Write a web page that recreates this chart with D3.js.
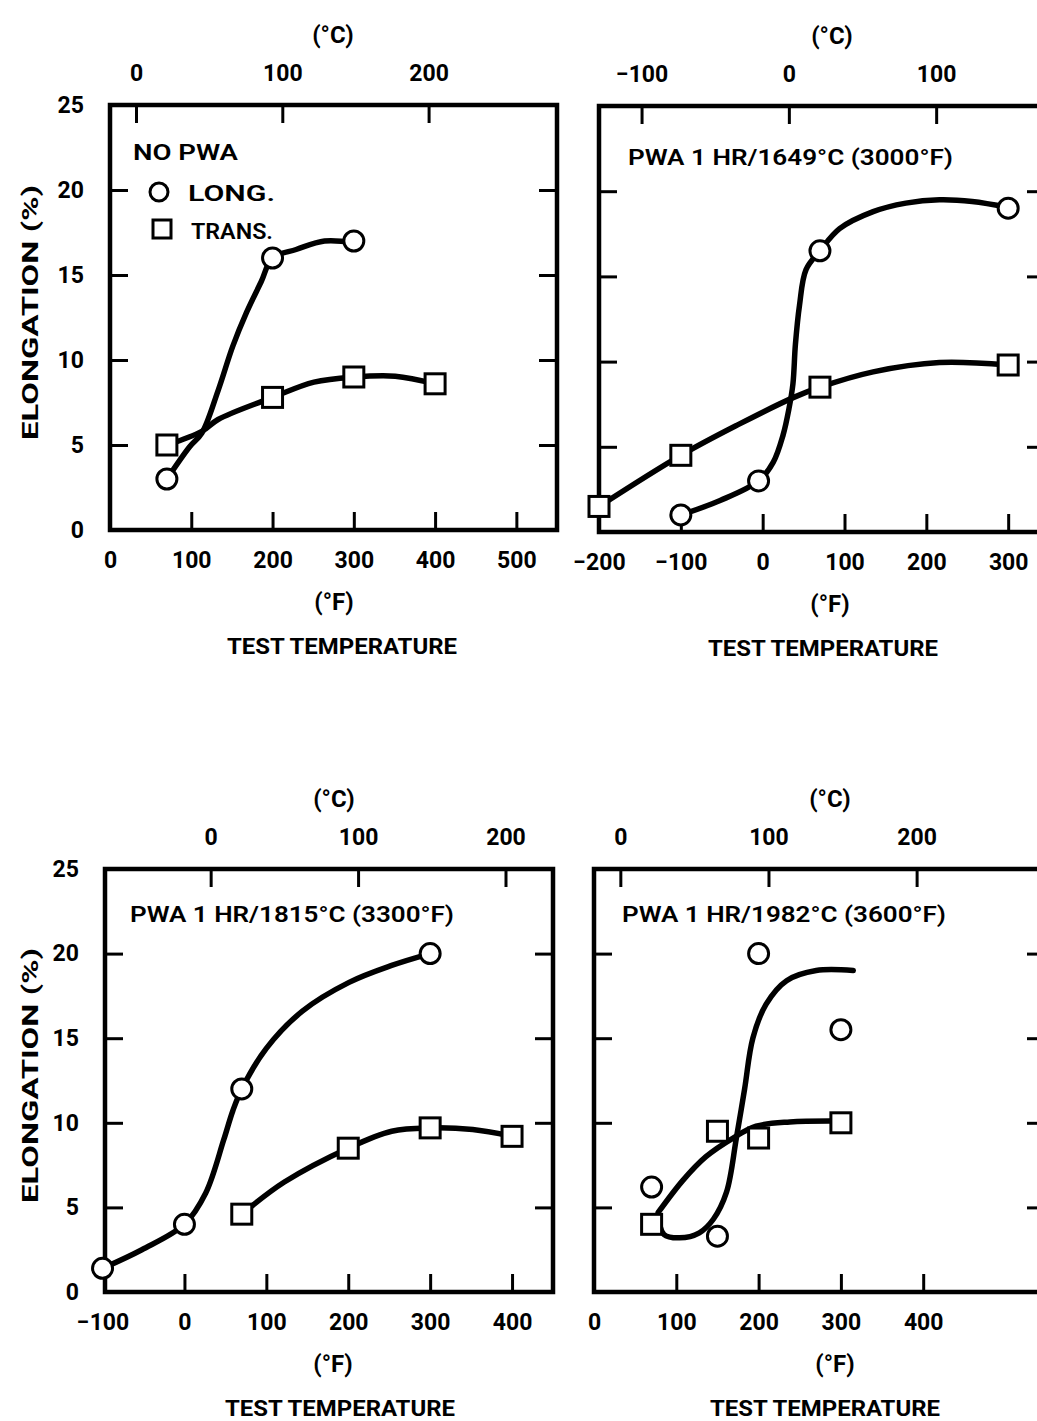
<!DOCTYPE html>
<html>
<head>
<meta charset="utf-8">
<script src="https://cdn.jsdelivr.net/npm/d3@7"></script>
<style>
  html, body { margin: 0; padding: 0; background: #fff; }
  svg { display: block; }
  text { font-family: Roboto, "Noto Sans", "DejaVu Sans", sans-serif; fill: #000; }
</style>
</head>
<body>
<svg id="chart" width="1037" height="1421"></svg>
<script>
// ---------- DATA ----------
const yTicks = [0, 5, 10, 15, 20, 25];

// Panel 1: NO PWA
const p1FTicks = [0, 100, 200, 300, 400, 500];
const p1CTicks = [0, 100, 200];
const p1LongF = [70, 200, 300];
const p1LongE = [3, 16, 17];
const p1TransF = [70, 200, 300, 400];
const p1TransE = [5, 7.8, 9, 8.6];
const p1LongCurveF = [70, 98, 113, 133, 151, 168, 186, 200, 229, 264, 300];
const p1LongCurveE = [3, 4.9, 5.7, 8.2, 10.8, 12.8, 14.6, 16, 16.5, 17.0, 16.9];
const p1TransCurveF = [70, 113, 133, 200, 251, 300, 351, 400];
const p1TransCurveE = [5.0, 5.8, 6.5, 7.8, 8.7, 9.0, 9.05, 8.6];

// Panel 2: PWA 1 HR/1649°C (3000°F)
const p2FTicks = [-200, -100, 0, 100, 200, 300];
const p2CTicks = [-100, 0, 100];
const p2LongF = [-100, -5, 70, 300];
const p2LongE = [1.0, 3.0, 16.5, 19.0];
const p2TransF = [-200, -100, 70, 300];
const p2TransE = [1.5, 4.5, 8.5, 9.8];
const p2LongCurveF = [-100, -52, -5, 13, 25, 32, 37, 40, 45, 53, 70, 94, 135, 175, 216, 256, 300];
const p2LongCurveE = [1.0, 1.85, 3.0, 4.1, 5.7, 7.2, 8.7, 11.0, 13.3, 15.4, 16.5, 17.8, 18.8, 19.3, 19.5, 19.4, 19.05];
const p2TransCurveF = [-200, -100, -30, 38, 70, 135, 216, 300];
const p2TransCurveE = [1.5, 4.5, 6.3, 7.9, 8.5, 9.4, 9.95, 9.8];

// Panel 3: PWA 1 HR/1815°C (3300°F)
const p3FTicks = [-100, 0, 100, 200, 300, 400];
const p3CTicks = [0, 100, 200];
const p3LongF = [-100, 0, 70, 300];
const p3LongE = [1.4, 4.0, 12, 20];
const p3TransF = [70, 200, 300, 400];
const p3TransE = [4.6, 8.5, 9.7, 9.2];
const p3LongCurveF = [-100, -52, 0, 26, 48, 59, 70, 100, 144, 201, 253, 300];
const p3LongCurveE = [1.4, 2.5, 4.0, 5.85, 9.0, 10.7, 12, 14.4, 16.6, 18.3, 19.3, 20];
const p3TransCurveF = [70, 122, 200, 253, 300, 352, 400];
const p3TransCurveE = [4.6, 6.5, 8.5, 9.5, 9.7, 9.6, 9.2];

// Panel 4: PWA 1 HR/1982°C (3600°F)
const p4FTicks = [0, 100, 200, 300, 400];
const p4CTicks = [0, 100, 200];
const p4LongF = [70, 150, 200, 300];
const p4LongE = [6.2, 3.3, 20, 15.5];
const p4TransF = [70, 150, 200, 300];
const p4TransE = [4.0, 9.5, 9.1, 10.0];
const p4LongCurveF = [78, 85, 104, 128, 145, 161, 173, 183, 193, 209, 234, 270, 315];
const p4LongCurveE = [4.6, 3.4, 3.2, 3.5, 4.3, 5.9, 9.1, 12.0, 15.0, 17.0, 18.4, 19.0, 19.0];
const p4TransCurveF = [78, 108, 136, 169, 197, 238, 302];
const p4TransCurveE = [4.7, 6.6, 8.0, 9.1, 9.8, 10.05, 10.1];

const titles = ["NO PWA", "PWA 1 HR/1649°C (3000°F)", "PWA 1 HR/1815°C (3300°F)", "PWA 1 HR/1982°C (3600°F)"];
const legendLabels = ["LONG.", "TRANS."];
const yLabel = "ELONGATION (%)";
const xLabel = "TEST TEMPERATURE";
const fUnit = "(°F)";
const cUnit = "(°C)";

// ---------- DRAWING ----------
const svg = d3.select("#chart");
svg.append("rect").attr("width", 1037).attr("height", 1421).attr("fill", "#fff");

const zip = (a, b) => a.map((v, i) => [v, b[i]]);
const f2c = f => (f - 32) * 5 / 9;

const panels = [
  { fDom: [0, 550], xr: [110, 557], yr: [530, 105], fT: p1FTicks, cT: p1CTicks, yLabels: true,
    long: zip(p1LongF, p1LongE), trans: zip(p1TransF, p1TransE),
    lc: zip(p1LongCurveF, p1LongCurveE), tc: zip(p1TransCurveF, p1TransCurveE),
    cx: 333, fx: 334, tx: 342, title: null, legend: true },
  { fDom: [-200, 345], xr: [599, 1045], yr: [532, 106], fT: p2FTicks, cT: p2CTicks, yLabels: false,
    long: zip(p2LongF, p2LongE), trans: zip(p2TransF, p2TransE),
    lc: zip(p2LongCurveF, p2LongCurveE), tc: zip(p2TransCurveF, p2TransCurveE),
    cx: 832, fx: 830, tx: 823, title: { text: titles[1], x: 628, y: 165, w: 325 } },
  { fDom: [-97, 450], xr: [105, 553], yr: [1292, 869], fT: p3FTicks, cT: p3CTicks, yLabels: true,
    long: zip(p3LongF, p3LongE), trans: zip(p3TransF, p3TransE),
    lc: zip(p3LongCurveF, p3LongCurveE), tc: zip(p3TransCurveF, p3TransCurveE),
    cx: 334, fx: 333, tx: 340, title: { text: titles[2], x: 130, y: 922, w: 324 } },
  { fDom: [0, 548], xr: [594, 1045], yr: [1292, 869], fT: p4FTicks, cT: p4CTicks, yLabels: false,
    long: zip(p4LongF, p4LongE), trans: zip(p4TransF, p4TransE),
    lc: zip(p4LongCurveF, p4LongCurveE), tc: zip(p4TransCurveF, p4TransCurveE),
    cx: 830, fx: 835, tx: 825, title: { text: titles[3], x: 622, y: 922, w: 324 } }
];

const TICK = 18;

function styleAxis(g) {
  g.select(".domain").remove();
  g.selectAll(".tick line").attr("stroke", "#000").attr("stroke-width", 3);
  g.selectAll(".tick text").attr("font-size", 23).attr("font-weight", 700)
    .attr("font-family", "Roboto, 'Noto Sans', sans-serif").attr("fill", "#000");
}

panels.forEach((p, i) => {
  const x = d3.scaleLinear().domain(p.fDom).range(p.xr);
  const xc = d3.scaleLinear().domain(p.fDom.map(f2c)).range(p.xr);
  const y = d3.scaleLinear().domain([0, 25]).range(p.yr);
  const [x0, x1] = p.xr, [yb, yt] = p.yr;
  const g = svg.append("g");

  // bottom axis (°F)
  g.append("g").attr("transform", `translate(0,${yb})`)
    .call(d3.axisBottom(x).tickValues(p.fT).tickSize(-TICK).tickPadding(22).tickFormat(d3.format("d")))
    .call(styleAxis)
    .call(a => a.selectAll(".tick").filter(d => Math.abs(x(d) - x0) < 3).select("line").remove());
  // top axis (°C)
  g.append("g").attr("transform", `translate(0,${yt})`)
    .call(d3.axisTop(xc).tickValues(p.cT).tickSize(-TICK).tickPadding(24).tickFormat(d3.format("d")))
    .call(styleAxis);
  // left axis
  g.append("g").attr("transform", `translate(${x0},0)`)
    .call(d3.axisLeft(y).tickValues(yTicks).tickSize(-TICK).tickPadding(26)
      .tickFormat(p.yLabels ? d3.format("d") : () => ""))
    .call(styleAxis)
    .call(a => a.selectAll(".tick").filter(d => d === 0 || d === 25).select("line").remove());
  // right axis
  g.append("g").attr("transform", `translate(${x1},0)`)
    .call(d3.axisRight(y).tickValues(yTicks.filter(d => d > 0 && d < 25)).tickSize(-TICK).tickFormat(() => ""))
    .call(styleAxis);

  // frame
  g.append("rect").attr("x", x0).attr("y", yt).attr("width", x1 - x0).attr("height", yb - yt)
    .attr("fill", "none").attr("stroke", "#000").attr("stroke-width", 4.5);

  // unit / axis labels
  g.append("text").attr("x", p.cx).attr("y", yt - 62).attr("text-anchor", "middle")
    .attr("font-size", 24).attr("font-weight", 700).text(cUnit);
  g.append("text").attr("x", p.fx).attr("y", yb + 80).attr("text-anchor", "middle")
    .attr("font-size", 24).attr("font-weight", 700).text(fUnit);
  g.append("text").attr("x", p.tx).attr("y", yb + 124).attr("text-anchor", "middle")
    .attr("font-size", 22).attr("font-weight", 700)
    .attr("textLength", 230).attr("lengthAdjust", "spacingAndGlyphs").text(xLabel);
  if (p.yLabels) {
    const cy = (yb + yt) / 2 - 5;
    g.append("text").attr("transform", `translate(38,${cy}) rotate(-90)`).attr("text-anchor", "middle")
      .attr("font-size", 22).attr("font-weight", 700)
      .attr("textLength", 255).attr("lengthAdjust", "spacingAndGlyphs").text(yLabel);
  }

  // curves
  const line = d3.line().x(d => x(d[0])).y(d => y(d[1])).curve(d3.curveCatmullRom.alpha(0.5));
  [p.lc, p.tc].forEach(c => {
    g.append("path").attr("d", line(c)).attr("fill", "none").attr("stroke", "#000")
      .attr("stroke-width", 5.5).attr("stroke-linecap", "round").attr("stroke-linejoin", "round");
  });

  // markers
  g.selectAll(null).data(p.trans).join("rect")
    .attr("x", d => x(d[0]) - 10).attr("y", d => y(d[1]) - 10).attr("width", 20).attr("height", 20)
    .attr("fill", "#fff").attr("stroke", "#000").attr("stroke-width", 3);
  g.selectAll(null).data(p.long).join("circle")
    .attr("cx", d => x(d[0])).attr("cy", d => y(d[1])).attr("r", 10)
    .attr("fill", "#fff").attr("stroke", "#000").attr("stroke-width", 3);

  // title
  if (p.title) {
    g.append("text").attr("x", p.title.x).attr("y", p.title.y).attr("font-size", 22).attr("font-weight", 600)
      .attr("textLength", p.title.w).attr("lengthAdjust", "spacingAndGlyphs").text(p.title.text);
  }
  if (p.legend) {
    g.append("text").attr("x", 133).attr("y", 160).attr("font-size", 22).attr("font-weight", 600)
      .attr("textLength", 105).attr("lengthAdjust", "spacingAndGlyphs").text(titles[0]);
    g.append("circle").attr("cx", 159).attr("cy", 192).attr("r", 9)
      .attr("fill", "#fff").attr("stroke", "#000").attr("stroke-width", 3);
    g.append("rect").attr("x", 153).attr("y", 220).attr("width", 18).attr("height", 18)
      .attr("fill", "#fff").attr("stroke", "#000").attr("stroke-width", 3);
    g.append("text").attr("x", 188).attr("y", 201).attr("font-size", 22).attr("font-weight", 600)
      .attr("textLength", 87).attr("lengthAdjust", "spacingAndGlyphs").text(legendLabels[0]);
    g.append("text").attr("x", 191).attr("y", 239).attr("font-size", 22).attr("font-weight", 600)
      .attr("textLength", 82).attr("lengthAdjust", "spacingAndGlyphs").text(legendLabels[1]);
  }
});
</script>
</body>
</html>
